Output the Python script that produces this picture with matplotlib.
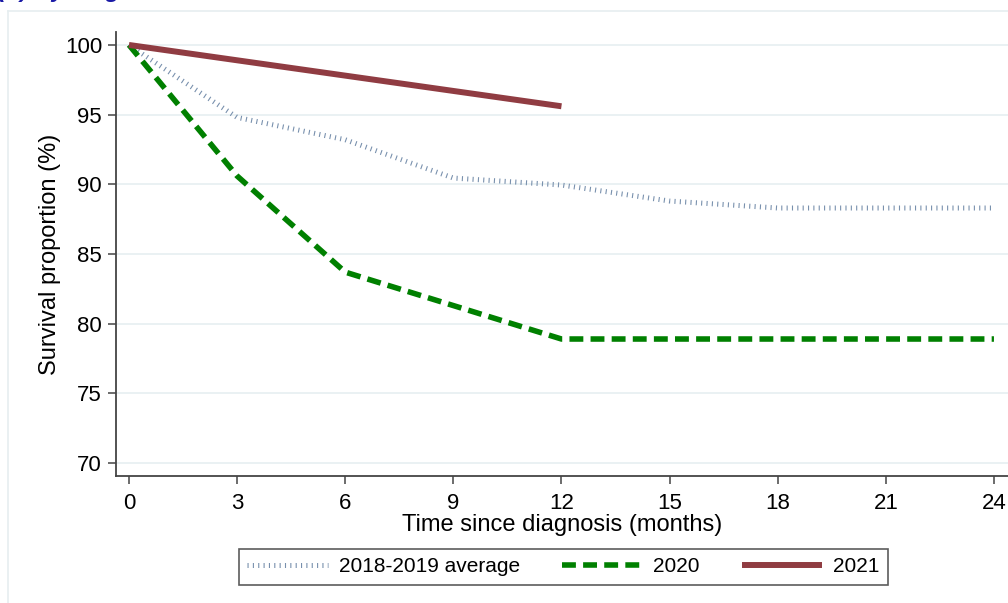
import matplotlib
matplotlib.use("Agg")
import matplotlib.pyplot as plt
from matplotlib.lines import Line2D

plt.rcParams['font.family'] = ['Liberation Sans', 'DejaVu Sans']

# Data
months_avg = [0, 3, 6, 9, 12, 15, 18, 21, 24]
surv_avg = [100, 94.8, 93.2, 90.45, 89.95, 88.8, 88.3, 88.3, 88.3]
months_2020 = [0, 3, 6, 9, 12, 15, 18, 21, 24]
surv_2020 = [100, 90.6, 83.7, 81.3, 78.9, 78.9, 78.9, 78.9, 78.9]
months_2021 = [0, 12]
surv_2021 = [100, 95.6]
labels = ["2018-2019 average", "2020", "2021"]
xticks = [0, 3, 6, 9, 12, 15, 18, 21, 24]
yticks = [70, 75, 80, 85, 90, 95, 100]

fig = plt.figure(figsize=(10.08, 6.03), dpi=100)
W, H = 1008, 603

# outer light frame
fig.add_artist(Line2D([8/W, 8/W], [0, 1 - 11/H], color='#e6eef0', lw=1.2, transform=fig.transFigure))
fig.add_artist(Line2D([8/W, 1], [1 - 11/H, 1 - 11/H], color='#e6eef0', lw=1.2, transform=fig.transFigure))

# cut-off title (only lower part visible in the reference)
fig.text(-0.002, 1 + 3/H, "(b) By stage C", color='#1a1aa6', fontsize=17, fontweight='bold',
         fontstyle='italic', va='baseline', ha='left')

left = 116/W
bottom = 1 - 476/H
top = 1 - 32/H
ax = fig.add_axes([left, bottom, 1 - left, top - bottom])

ax.set_xlim(-0.36, 24.39)
ax.set_ylim(69.07, 100.93)

for y in yticks:
    ax.axhline(y, color='#e8f0f2', lw=1.3, zorder=0)

ax.plot(months_avg, surv_avg, color='#7890ad', lw=3.6, linestyle=(0, (0.22, 0.85)),
        label=labels[0], dash_capstyle='butt')
ax.plot(months_2020, surv_2020, color='#008000', lw=4.0, linestyle=(0, (2.5, 1.3)),
        label=labels[1], dash_capstyle='butt')
ax.plot(months_2021, surv_2021, color='#903c42', lw=4.3, label=labels[2],
        solid_capstyle='butt')

ax.set_xticks(xticks)
ax.set_yticks(yticks)
ax.tick_params(axis='both', direction='out', length=6, width=1.1, color='#444444',
               labelsize=16, labelcolor='black')
ax.tick_params(axis='x', pad=6)
ax.tick_params(axis='y', pad=4)
for s in ['top', 'right']:
    ax.spines[s].set_visible(False)
for s in ['left', 'bottom']:
    ax.spines[s].set_color('#444444')
    ax.spines[s].set_linewidth(1.3)

ax.set_xlabel("Time since diagnosis (months)", fontsize=17, labelpad=0)
ax.set_ylabel("Survival proportion (%)", fontsize=17, labelpad=3)

leg = fig.legend(loc='center', bbox_to_anchor=((243 + 884) / 2 / W, 1 - 567/H), ncol=3,
                 fontsize=15, frameon=True, fancybox=False, edgecolor='#333333',
                 handlelength=3.85, columnspacing=2.0, handletextpad=0.55,
                 borderpad=0.42)
leg.get_frame().set_linewidth(1.2)

fig.savefig("out.png", dpi=100)
